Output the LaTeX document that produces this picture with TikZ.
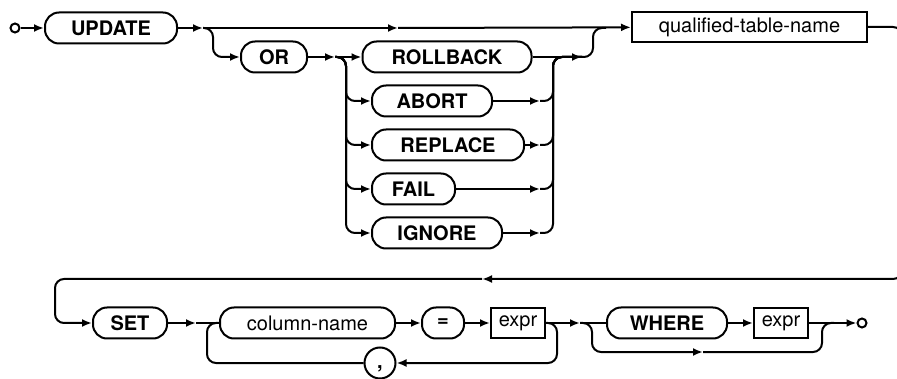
\documentclass[tikz,border=0pt]{standalone}
\usepackage{fontspec}
\setmainfont{TeX Gyre Heros}
\usepackage{tikz}
\usetikzlibrary{arrows.meta,positioning}
\tikzset{
 kw/.style={draw,line width=2pt,rounded corners=14pt,minimum height=31pt,inner sep=0pt,
   font=\fontsize{20}{20}\selectfont\bfseries},
 nt/.style={draw,line width=2pt,minimum height=30pt,inner sep=0pt,
   font=\fontsize{20}{20}\selectfont},
 dot/.style={circle,draw,line width=2pt,minimum size=9pt,inner sep=0pt},
 ln/.style={line width=2pt,rounded corners=9pt},
 arr/.style={-{Latex[length=10pt,width=8pt]},line width=2pt,rounded corners=9pt}
}
\begin{document}
\begin{tikzpicture}[x=1pt,y=-1pt]
\useasboundingbox (0,0) rectangle (897,379);
\clip (0,0) rectangle (897,379);
% first line
\node[dot] (start) at (15,28) {};
\node[kw,minimum width=132pt] (update) at (111,28) {UPDATE};
\node[kw,minimum width=66pt] (or) at (274,57) {OR};
\node[kw,minimum width=169pt] (rollback) at (447,57) {ROLLBACK};
\node[kw,minimum width=120pt] (abort) at (432,101) {ABORT};
\node[kw,minimum width=152pt] (replace) at (448,145) {REPLACE};
\node[kw,minimum width=83pt] (fail) at (413.5,189) {FAIL};
\node[kw,minimum width=130pt] (ignore) at (437,233) {IGNORE};
\node[nt,minimum width=235pt] (qtn) at (749.5,27) {qualified-table-name};
\coordinate (j1) at (203,28);
\coordinate (m1) at (398,28);
\coordinate (j2) at (335,57);
\coordinate (rr) at (553,57);
\coordinate (ra) at (540,57);
\coordinate (j3) at (582,57);
\coordinate (j4) at (606,28);
\draw[arr] (start)--(update);\draw[arr] (update)--(j1);
\draw[arr] (j1)--(m1);\draw[arr] (m1)--(qtn);
\draw[arr] (j1)--++(10,0)|-(or);
\draw[arr] (or)--(j2);\draw[arr] (j2)--(rollback);
\foreach \o in {abort,replace,fail,ignore}{
  \draw[arr] (j2)--++(11,0)|-(\o);
  \draw[arr] (\o)--(\o.east-|ra);
  \draw[ln] (\o.east-|ra)--(\o.east-|rr)--(rr)--(j3);
}
\draw[arr] (rollback)--(j3);
\draw[ln] (j3)--++(11,0)|-(j4);
% second line
\node[kw,minimum width=74pt] (set) at (130,323) {SET};
\node[kw,minimum width=175pt] (colname) at (307.5,323) {\mdseries column-name};
\node[kw,minimum width=42pt] (eq) at (443,323) {=};
\node[nt,minimum width=54pt] (expr1) at (518,323) {expr};
\node[kw,circle,minimum size=31pt,text height=13pt,text depth=2pt] (comma) at (380,363) {,};
\node[kw,minimum width=120pt] (where) at (667,323) {WHERE};
\node[nt,minimum width=54pt] (expr2) at (781,323) {expr};
\node[dot] (end) at (862,323) {};
\coordinate (wm) at (482,279);
\coordinate (j5) at (196,323);
\coordinate (j6) at (580,323);
\coordinate (bm) at (703,352);
\coordinate (j7) at (834,323);
\draw[arr] (qtn)--(902,27)--(902,279)--(wm);
\draw[arr] (wm)--(55,279)|-(set);
\draw[arr] (set)--(j5);\draw[ln] (j5)--(colname);
\draw[arr] (colname)--(eq);\draw[arr] (eq)--(expr1);
\draw[arr] (expr1)--(557,323)--(557,363)--(comma);
\draw[ln] (comma)--(207,363)--(207,323)--(colname.west);
\draw[arr] (expr1)--(j6);\draw[ln] (j6)--(where);
\draw[arr] (where)--(expr2);
\draw[arr] (j6)--++(12,0)|-(bm);
\draw[ln] (bm)--(822,352)--(822,323)--(j7);
\draw[ln] (expr2)--(j7);\draw[arr] (j7)--(end);
\end{tikzpicture}
\end{document}
